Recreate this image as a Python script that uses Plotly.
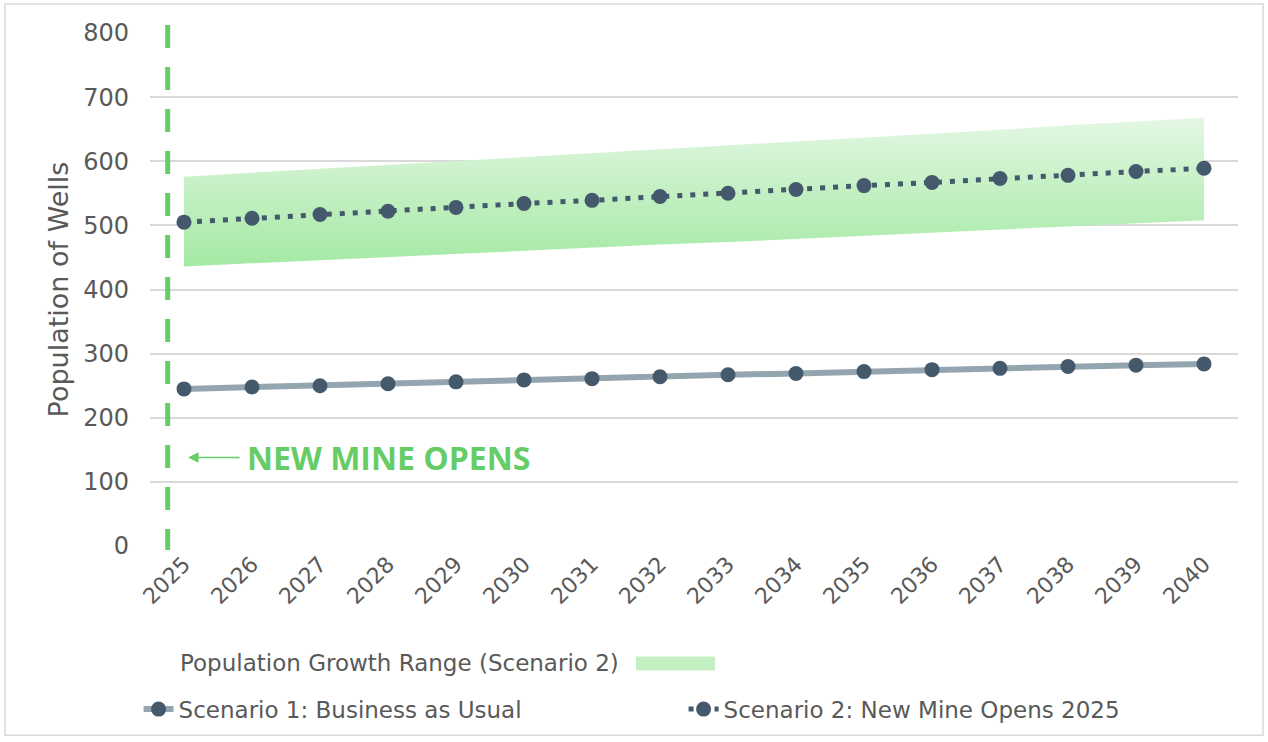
import plotly.graph_objects as go

# ── data ────────────────────────────────────────────────────────────────────
years = [str(y) for y in range(2025, 2041)]

scenario1 = [245, 248, 250, 253, 256, 259, 261, 264, 267, 269, 272, 275, 277, 280, 282, 284]
scenario2 = [505, 511, 517, 522, 528, 534, 539, 545, 550, 556, 562, 567, 573, 578, 584, 589]

range_hi = [576, 582, 588, 594, 600, 606, 613, 619, 625, 631, 637, 643, 649, 656, 662, 668]
range_lo = [436, 441, 446, 451, 455, 460, 465, 470, 474, 479, 484, 489, 494, 498, 503, 508]

mine_opens_x = -0.24  # just left of 2025, category units

GREEN = "#66cc66"
SLATE = "#44596b"
GREY_LINE = "#95a5b0"
TXT = "#595959"
FONT = "DejaVu Sans"

fig = go.Figure()

# ── growth range band (scenario 2) ───────────────────────────────────────────
fig.add_trace(go.Scatter(
    x=years, y=range_lo, mode="lines", line=dict(width=0),
    showlegend=False, hoverinfo="skip",
))
fig.add_trace(go.Scatter(
    x=years, y=range_hi, mode="lines", line=dict(width=0),
    fill="tonexty",
    fillgradient=dict(type="vertical",
                      colorscale=[[0, "#a4e9a4"], [1, "#e3f7e3"]]),
    showlegend=False, hoverinfo="skip",
))

# ── scenario lines ───────────────────────────────────────────────────────────
fig.add_trace(go.Scatter(
    x=years, y=scenario1, mode="lines+markers",
    line=dict(color=GREY_LINE, width=6),
    marker=dict(color=SLATE, size=15),
    name="Scenario 1: Business as Usual",
))
fig.add_trace(go.Scatter(
    x=years, y=scenario2, mode="lines+markers",
    line=dict(color=SLATE, width=5, dash="5px,8px"),
    marker=dict(color=SLATE, size=15),
    name="Scenario 2: New Mine Opens 2025",
))

# ── "new mine opens" marker line + callout ───────────────────────────────────
fig.add_shape(type="line", xref="x", yref="paper",
              x0=mine_opens_x, x1=mine_opens_x, y0=1.0155, y1=-0.008,
              line=dict(color=GREEN, width=5, dash="23px,19px"))
fig.add_annotation(x=0.06, y=138, xref="x", yref="y",
                   ax=53, ay=0, axref="pixel", ayref="pixel",
                   text="", showarrow=True, arrowhead=2, arrowsize=1.3,
                   arrowwidth=1.6, arrowcolor=GREEN)
fig.add_annotation(x=0.9, y=138, xref="x", yref="y",
                   text="<b>NEW MINE OPENS</b>", showarrow=False,
                   xanchor="left", yanchor="middle",
                   font=dict(family="Open Sans", size=32, color=GREEN))

# ── custom legend row for the band (swatch sits right of the text) ──────────
fig.add_annotation(x=0.0257, y=-0.229, xref="paper", yref="paper",
                   text="Population Growth Range (Scenario 2)",
                   showarrow=False, xanchor="left", yanchor="middle",
                   font=dict(family=FONT, size=23, color=TXT))
fig.add_shape(type="rect", xref="paper", yref="paper",
              x0=0.4467, x1=0.5193, y0=-0.2427, y1=-0.2155,
              fillcolor="#c2f0c2", line=dict(width=0))

# outer frame
fig.add_shape(type="rect", xref="paper", yref="paper",
              x0=-0.1333, x1=1.0230, y0=-0.3689, y1=1.0563,
              line=dict(color="#d9d9d9", width=1.5), fillcolor="rgba(0,0,0,0)",
              layer="below")

fig.update_xaxes(
    type="category", range=[-0.5, 15.5],
    tickangle=-45, showgrid=False, showline=False, ticks="",
    tickfont=dict(family=FONT, size=22, color=TXT),
)
fig.update_yaxes(
    range=[0, 800], dtick=100, showgrid=True, gridcolor="#d9d9d9", gridwidth=1.5,
    zeroline=False, showline=False, ticks="", ticklabelstandoff=20,
    tickfont=dict(family=FONT, size=24, color=TXT),
    title=dict(text="Population of Wells", standoff=6,
               font=dict(family=FONT, size=27, color=TXT)),
)
fig.update_layout(
    width=1268, height=742,
    margin=dict(l=150, r=30, t=33, b=194),
    plot_bgcolor="white", paper_bgcolor="white",
    font=dict(family=FONT, color=TXT),
    legend=dict(orientation="h", x=-0.0105, xanchor="left", traceorder="normal",
                y=-0.318, yanchor="middle", entrywidth=500,
                font=dict(family=FONT, size=23, color=TXT)),
)

fig.write_html("out.html", config={"displayModeBar": False},
               post_script="document.body.style.margin='0';")
